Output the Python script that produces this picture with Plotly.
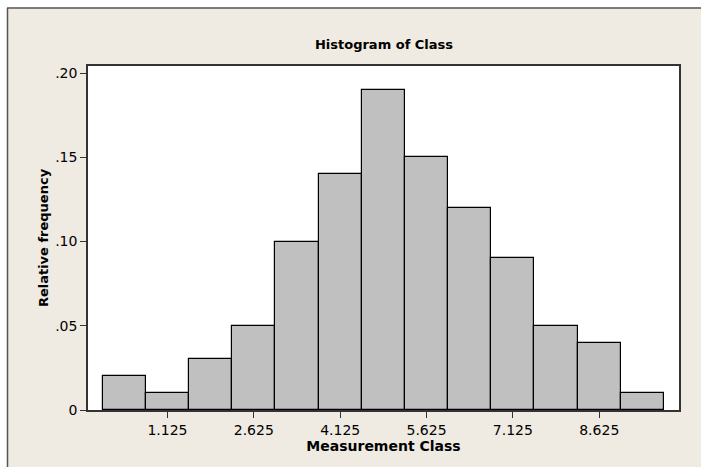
import plotly.graph_objects as go

# Class midpoints (measurement classes of width 0.75) and relative frequencies
class_midpoints = [0.375, 1.125, 1.875, 2.625, 3.375, 4.125, 4.875,
                   5.625, 6.375, 7.125, 7.875, 8.625, 9.375]
relative_freq = [0.02, 0.01, 0.03, 0.05, 0.10, 0.14, 0.19,
                 0.15, 0.12, 0.09, 0.05, 0.04, 0.01]

x_tick_vals = [1.125, 2.625, 4.125, 5.625, 7.125, 8.625]
x_tick_text = ["1.125", "2.625", "4.125", "5.625", "7.125", "8.625"]
y_tick_vals = [0, 0.05, 0.10, 0.15, 0.20]
y_tick_text = ["0", ".05", ".10", ".15", ".20"]

CLASS_WIDTH = 0.75
BG = "#EFEBE2"
FONT = "DejaVu Sans"

fig = go.Figure(
    go.Bar(
        x=class_midpoints,
        y=relative_freq,
        width=CLASS_WIDTH,
        marker=dict(color="#C0C0C0", line=dict(color="#000000", width=1.2)),
        hoverinfo="x+y",
    )
)

L, R, T, B = 88, 22, 66, 57
W, H = 701, 467
pw, ph = W - L - R, H - T - B


def px_to_paper_x(px):
    return (px - L) / pw


def px_to_paper_y(py):
    return (H - B - py) / ph


# White strip along the top and left edge, then the dark frame line
fig.add_shape(type="rect", xref="paper", yref="paper",
              x0=px_to_paper_x(0), x1=px_to_paper_x(W),
              y0=px_to_paper_y(7.5), y1=px_to_paper_y(0),
              fillcolor="white", line=dict(width=0), layer="below")
fig.add_shape(type="rect", xref="paper", yref="paper",
              x0=px_to_paper_x(0), x1=px_to_paper_x(7),
              y0=px_to_paper_y(H), y1=px_to_paper_y(0),
              fillcolor="white", line=dict(width=0), layer="below")
fig.add_shape(type="line", xref="paper", yref="paper",
              x0=px_to_paper_x(7), x1=px_to_paper_x(W),
              y0=px_to_paper_y(8), y1=px_to_paper_y(8),
              line=dict(color="#555555", width=1.5), layer="below")
fig.add_shape(type="line", xref="paper", yref="paper",
              x0=px_to_paper_x(7.5), x1=px_to_paper_x(7.5),
              y0=px_to_paper_y(8), y1=px_to_paper_y(H),
              line=dict(color="#555555", width=1.5), layer="below")

fig.update_layout(
    width=W,
    height=H,
    margin=dict(l=L, r=R, t=T, b=B),
    paper_bgcolor=BG,
    plot_bgcolor="white",
    bargap=0,
    showlegend=False,
    font=dict(family=FONT, color="#000000", size=14),
    title=dict(
        text="<b>Histogram of Class</b>",
        x=px_to_paper_x(384), xref="paper", xanchor="center",
        y=1 - 44 / H, yanchor="middle",
        font=dict(family=FONT, size=13, color="#000000"),
    ),
    xaxis=dict(
        range=[-0.255, 10.01],
        tickvals=x_tick_vals,
        ticktext=x_tick_text,
        ticks="outside",
        ticklen=6,
        tickcolor="#333333",
        showgrid=False,
        zeroline=False,
        showline=True,
        linecolor="#333333",
        linewidth=1.5,
        mirror=True,
        tickfont=dict(family=FONT, size=14, color="#000000"),
        title=dict(text="<b>Measurement Class</b>", standoff=5,
                   font=dict(family=FONT, size=14, color="#000000")),
    ),
    yaxis=dict(
        range=[0, 0.2042],
        tickvals=y_tick_vals,
        ticktext=y_tick_text,
        ticks="outside",
        ticklen=6,
        tickcolor="#333333",
        showgrid=False,
        zeroline=False,
        showline=True,
        linecolor="#333333",
        linewidth=1.5,
        mirror=True,
        tickfont=dict(family=FONT, size=14, color="#000000"),
        title=dict(text="<b>Relative frequency</b>", standoff=4,
                   font=dict(family=FONT, size=13, color="#000000")),
    ),
)

fig.write_html("out.html")
